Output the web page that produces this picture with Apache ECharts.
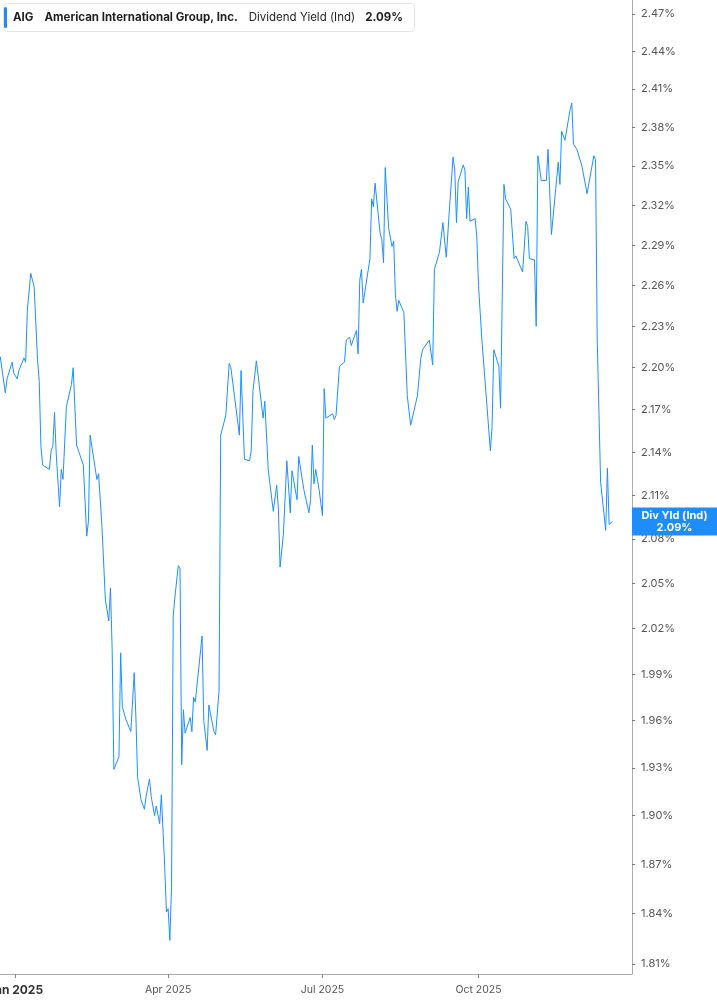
<!DOCTYPE html>
<html><head><meta charset="utf-8">
<script src="https://cdn.jsdelivr.net/npm/echarts@6/dist/echarts.min.js"></script>
<style>html,body{margin:0;padding:0;background:#fff;}#c{width:717px;height:1005px;}</style>
</head><body><div id="c"></div>
<script>
const ticker = 'AIG';
const company = 'American International Group, Inc.';
const metric = 'Dividend Yield (Ind)';
const tagName = 'Div Yld (Ind)';

const dates = [
'2024-12-23','2024-12-26','2024-12-27','2024-12-30','2024-12-31',
'2025-01-02','2025-01-03','2025-01-06','2025-01-07','2025-01-08','2025-01-10','2025-01-12','2025-01-14','2025-01-15','2025-01-16','2025-01-17',
'2025-01-21','2025-01-22','2025-01-23','2025-01-24','2025-01-25','2025-01-27','2025-01-28','2025-01-29','2025-01-30','2025-01-31',
'2025-02-03','2025-02-04','2025-02-06','2025-02-10','2025-02-12','2025-02-13','2025-02-14','2025-02-18','2025-02-19','2025-02-21',
'2025-02-23','2025-02-25','2025-02-26','2025-02-27','2025-02-28',
'2025-03-03','2025-03-04','2025-03-05','2025-03-06','2025-03-07','2025-03-10','2025-03-12','2025-03-13','2025-03-14','2025-03-16',
'2025-03-18','2025-03-19','2025-03-20','2025-03-21','2025-03-22','2025-03-24','2025-03-25','2025-03-27','2025-03-28','2025-03-30','2025-03-31',
'2025-04-01','2025-04-02','2025-04-03','2025-04-04','2025-04-05','2025-04-07','2025-04-08','2025-04-09','2025-04-10','2025-04-11',
'2025-04-14','2025-04-15','2025-04-16','2025-04-17','2025-04-21','2025-04-22','2025-04-23','2025-04-24','2025-04-25','2025-04-28','2025-04-29',
'2025-05-01','2025-05-02','2025-05-05','2025-05-07','2025-05-08','2025-05-13','2025-05-14','2025-05-16','2025-05-19','2025-05-20','2025-05-21',
'2025-05-23','2025-05-27','2025-05-28','2025-05-30',
'2025-06-02','2025-06-04','2025-06-05','2025-06-06','2025-06-08','2025-06-10','2025-06-11','2025-06-12','2025-06-13','2025-06-16','2025-06-17',
'2025-06-18','2025-06-20','2025-06-23','2025-06-24','2025-06-25','2025-06-26','2025-06-27','2025-06-29',
'2025-07-01','2025-07-02','2025-07-03','2025-07-07','2025-07-08','2025-07-09','2025-07-11','2025-07-14','2025-07-15','2025-07-17','2025-07-18',
'2025-07-21','2025-07-22','2025-07-23','2025-07-24','2025-07-25','2025-07-29','2025-07-30','2025-07-31',
'2025-08-01','2025-08-04','2025-08-05','2025-08-06','2025-08-07','2025-08-09','2025-08-11','2025-08-12','2025-08-13','2025-08-14','2025-08-15',
'2025-08-18','2025-08-20','2025-08-21','2025-08-22','2025-08-26','2025-08-28','2025-08-29',
'2025-09-02','2025-09-04','2025-09-05','2025-09-08','2025-09-10','2025-09-12','2025-09-14','2025-09-16','2025-09-17','2025-09-18','2025-09-19',
'2025-09-22','2025-09-23','2025-09-24','2025-09-25','2025-09-26','2025-09-29','2025-09-30',
'2025-10-01','2025-10-02','2025-10-03','2025-10-08','2025-10-09','2025-10-10','2025-10-13','2025-10-14','2025-10-16','2025-10-17','2025-10-20',
'2025-10-22','2025-10-23','2025-10-27','2025-10-29','2025-10-30','2025-10-31',
'2025-11-03','2025-11-04','2025-11-05','2025-11-06','2025-11-07','2025-11-10','2025-11-11','2025-11-13','2025-11-17','2025-11-18','2025-11-19',
'2025-11-20','2025-11-21','2025-11-24','2025-11-25','2025-11-26','2025-11-28',
'2025-12-01','2025-12-04','2025-12-08','2025-12-09','2025-12-10','2025-12-12','2025-12-15','2025-12-16','2025-12-17','2025-12-18','2025-12-19'
];

const yieldValues = [
2.208,2.182,2.192,2.204,2.196,
2.192,2.198,2.207,2.204,2.242,2.269,2.259,2.206,2.190,2.144,2.131,
2.128,2.141,2.144,2.168,2.139,2.102,2.128,2.121,2.121,2.172,
2.188,2.200,2.145,2.131,2.082,2.092,2.152,2.121,2.125,2.088,
2.039,2.025,2.047,2.006,1.929,
1.937,2.004,1.969,1.968,1.961,1.953,1.991,1.962,1.924,1.910,
1.904,1.912,1.912,1.923,1.912,1.900,1.906,1.895,1.913,1.868,1.841,
1.843,1.824,1.856,2.028,2.041,2.062,2.060,1.932,1.967,1.952,
1.962,1.953,1.975,1.972,2.015,1.960,1.959,1.941,1.970,1.953,1.951,
1.979,2.152,2.166,2.203,2.200,2.152,2.198,2.135,2.134,2.141,2.183,
2.205,2.164,2.176,2.128,
2.099,2.117,2.101,2.061,2.084,2.134,2.133,2.098,2.127,2.107,2.137,
2.136,2.114,2.098,2.107,2.145,2.118,2.128,2.114,
2.096,2.185,2.164,2.167,2.163,2.166,2.201,2.204,2.220,2.222,2.216,
2.227,2.210,2.264,2.272,2.247,2.280,2.325,2.319,
2.337,2.299,2.294,2.277,2.349,2.303,2.289,2.293,2.253,2.241,2.249,
2.240,2.180,2.179,2.159,2.180,2.207,2.213,
2.220,2.202,2.272,2.285,2.307,2.281,2.320,2.357,2.347,2.307,2.338,
2.351,2.347,2.310,2.334,2.308,2.310,2.296,
2.260,2.259,2.220,2.141,2.158,2.213,2.201,2.171,2.336,2.325,2.317,
2.280,2.282,2.270,2.308,2.304,2.280,
2.279,2.230,2.358,2.359,2.339,2.339,2.363,2.298,2.353,2.336,2.377,
2.378,2.370,2.394,2.399,2.367,2.363,
2.350,2.329,2.358,2.355,2.220,2.119,2.086,2.129,2.090,2.089,2.092
];

const yTickValues = [1.81,1.84,1.87,1.90,1.93,1.96,1.99,2.02,2.05,2.08,2.11,2.14,2.17,2.20,2.23,2.26,2.29,2.32,2.35,2.38,2.41,2.44,2.47];
const xTickDates = ['2025-01-01','2025-04-01','2025-07-01','2025-10-01'];
const monthNames = ['Jan','Feb','Mar','Apr','May','Jun','Jul','Aug','Sep','Oct','Nov','Dec'];

function ts(s){ const p = s.split('-'); return Date.UTC(+p[0], +p[1]-1, +p[2]); }
const DAY = 86400000;
const seriesData = dates.map((d,i) => [ts(d), yieldValues[i]]);
const lastVal = yieldValues[yieldValues.length-1];
const lastTxt = lastVal.toFixed(2) + '%';
const xTicks = xTickDates.map(ts);
const FONT = 'Inter, Roboto, "Noto Sans", sans-serif';

const chart = echarts.init(document.getElementById('c'), null, {renderer:'canvas'});
chart.setOption({
  animation: false,
  textStyle: {fontFamily: FONT},
  grid: {left: 0, right: 85, top: 0, bottom: 31, outerBoundsMode: 'none', containLabel: false},
  title: {
    left: 3, top: 3,
    text: '{b|' + ticker + '}{s|}{b|' + company + '}{s|}{n|' + metric + '}{t|}{b|' + lastTxt + '}',
    backgroundColor: '#ffffff', borderColor: '#e4e4e4', borderWidth: 1, borderRadius: 3,
    padding: [6, 12, 5, 10],
    textStyle: {
      rich: {
        b: {fontWeight: 'bold', fontSize: 11.5, color: '#1f1f1f', fontFamily: FONT, lineHeight: 15},
        n: {fontWeight: 'normal', fontSize: 11.5, color: '#1f1f1f', fontFamily: FONT, lineHeight: 15},
        s: {width: 11},
        t: {width: 10}
      }
    }
  },
  graphic: [{type: 'rect', left: 4, top: 7, z: 100, shape: {width: 3, height: 21, r: 1.5}, style: {fill: '#1a8cff'}}],
  xAxis: {
    type: 'value',
    min: ts('2025-01-01') - 9.135 * DAY,
    max: ts('2025-01-01') + 363.5 * DAY,
    splitLine: {show: false},
    axisLine: {show: true, onZero: false, lineStyle: {color: '#aaaaaa', width: 1}},
    axisTick: {show: true, customValues: xTicks, length: 4, lineStyle: {color: '#888888'}},
    axisLabel: {
      customValues: xTicks,
      margin: 10, color: '#555555', fontSize: 10.5,
      formatter: function (v) {
        const d = new Date(v);
        const s = monthNames[d.getUTCMonth()] + ' ' + d.getUTCFullYear();
        return d.getUTCMonth() === 0 ? '{b|' + s + '}' : s;
      },
      rich: {b: {fontWeight: 'bold', fontSize: 12, color: '#333333'}}
    }
  },
  yAxis: {
    type: 'log', logBase: 10, position: 'right',
    min: 1.80404, max: 2.48134,
    splitLine: {show: false},
    minorTick: {show: false}, minorSplitLine: {show: false},
    axisLine: {show: true, lineStyle: {color: '#aaaaaa', width: 1}},
    axisTick: {show: true, customValues: yTickValues, length: 3, lineStyle: {color: '#777777'}},
    axisLabel: {customValues: yTickValues, formatter: v => Number(v).toFixed(2) + '%', color: '#555555', fontSize: 11, margin: 9}
  },
  series: [{
    type: 'line', data: seriesData, showSymbol: false, symbol: 'none',
    lineStyle: {color: '#1f8fff', width: 1}, emphasis: {disabled: true},
    markLine: {
      silent: true, symbol: ['none', 'none'], animation: false,
      lineStyle: {color: 'rgba(0,0,0,0)', width: 0, opacity: 1},
      data: [{yAxis: lastVal}],
      label: {
        show: true, position: 'end', distance: 42.5, align: 'center', verticalAlign: 'middle',
        offset: [0, -3],
        formatter: tagName + '\n' + lastTxt, opacity: 1,
        color: '#ffffff', fontWeight: 'bold', fontSize: 11, lineHeight: 12,
        backgroundColor: '#1e8cfa', padding: [2, 0, 2, 0], width: 85
      }
    }
  }]
});
</script></body></html>
